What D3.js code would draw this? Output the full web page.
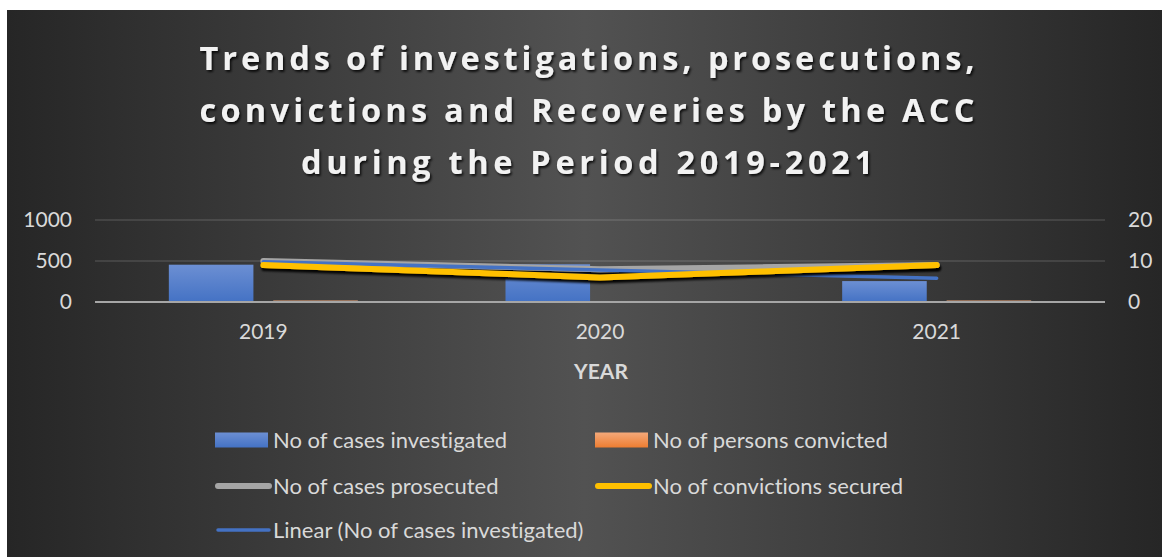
<!DOCTYPE html>
<html>
<head>
<meta charset="utf-8">
<script src="https://cdn.jsdelivr.net/npm/d3@7"></script>
<style>
  html, body { margin: 0; padding: 0; background: #ffffff; }
  svg { display: block; font-family: Lato, "Open Sans", sans-serif; font-variant-ligatures: none; }
</style>
</head>
<body>
<svg id="chart" width="1162" height="557"></svg>
<script>
var years = ["2019", "2020", "2021"];
var casesInvestigated = [455, 460, 255];
var personsConvicted = [18, 12, 18];
var casesProsecuted = [10, 8, 9];
var convictionsSecured = [9, 6, 9];
var leftTicks = [0, 500, 1000];
var rightTicks = [0, 10, 20];
var titleLines = [
  "Trends of investigations, prosecutions,",
  "convictions and Recoveries by the ACC",
  "during the Period 2019-2021"
];

(function() {
  var svg = d3.select("#chart"),
      plotLeft = 95, plotRight = 1105,
      plotTop = 220, plotBottom = 302;

  var defs = svg.append("defs");

  var bg = defs.append("linearGradient").attr("id", "bg")
      .attr("x1", "0").attr("x2", "1").attr("y1", "0").attr("y2", "0");
  bg.append("stop").attr("offset", "0").attr("stop-color", "#262626");
  bg.append("stop").attr("offset", "0.5").attr("stop-color", "#525252");
  bg.append("stop").attr("offset", "1").attr("stop-color", "#262626");

  var blueGrad = defs.append("linearGradient").attr("id", "blueBar")
      .attr("x1", "0").attr("x2", "0").attr("y1", "0").attr("y2", "1");
  blueGrad.append("stop").attr("offset", "0").attr("stop-color", "#6c8fd3");
  blueGrad.append("stop").attr("offset", "1").attr("stop-color", "#4472c4");

  var orangeGrad = defs.append("linearGradient").attr("id", "orangeBar")
      .attr("x1", "0").attr("x2", "0").attr("y1", "0").attr("y2", "1");
  orangeGrad.append("stop").attr("offset", "0").attr("stop-color", "#f4a97a");
  orangeGrad.append("stop").attr("offset", "1").attr("stop-color", "#ed7d31");

  var titleShadow = defs.append("filter").attr("id", "titleShadow")
      .attr("x", "-5%").attr("y", "-20%").attr("width", "110%").attr("height", "150%");
  titleShadow.append("feDropShadow").attr("dx", 1.5).attr("dy", 2).attr("stdDeviation", 1.2)
      .attr("flood-color", "#000").attr("flood-opacity", 0.8);

  var lineShadow = defs.append("filter").attr("id", "lineShadow")
      .attr("x", "-5%").attr("y", "-100%").attr("width", "110%").attr("height", "300%");
  lineShadow.append("feDropShadow").attr("dx", 1).attr("dy", 3).attr("stdDeviation", 1.3)
      .attr("flood-color", "#000").attr("flood-opacity", 0.95);

  svg.append("rect")
    .attr("x", 7).attr("y", 10)
    .attr("width", 1162 - 7).attr("height", 557 - 10)
    .attr("fill", "url(#bg)");

  // title
  var titleWidths = [775, 775, 572];
  svg.append("g").attr("filter", "url(#titleShadow)")
    .selectAll("text")
    .data(titleLines)
    .enter().append("text")
      .attr("x", 587)
      .attr("y", function(d, i) { return 70 + i * 52; })
      .attr("text-anchor", "middle")
      .attr("textLength", function(d, i) { return titleWidths[i]; })
      .attr("lengthAdjust", "spacing")
      .attr("fill", "#f2f2f2")
      .attr("font-family", "'Open Sans', sans-serif")
      .attr("font-size", 32.5)
      .attr("font-weight", 700)
      .text(function(d) { return d; });

  var x = d3.scaleBand().domain(years).range([plotLeft, plotRight]);
  var series = ["inv", "conv"];
  var x1 = d3.scaleBand().domain(series)
      .range([x.bandwidth() / 2 - 94.5, x.bandwidth() / 2 + 94.5])
      .paddingInner(0.19);
  var y = d3.scaleLinear().domain([0, 1000]).range([plotBottom, plotTop]);
  var y2 = d3.scaleLinear().domain([0, 20]).range([plotBottom, plotTop]);

  // gridlines
  svg.append("g")
    .selectAll("line")
    .data(leftTicks.filter(function(d) { return d > 0; }))
    .enter().append("line")
      .attr("x1", plotLeft).attr("x2", plotRight)
      .attr("y1", function(d) { return y(d); })
      .attr("y2", function(d) { return y(d); })
      .attr("stroke", "rgba(255,255,255,0.14)")
      .attr("stroke-width", 1.5);

  // axes labels
  var leftAxis = svg.append("g")
      .attr("transform", "translate(72,0)")
      .call(d3.axisLeft(y).tickValues(leftTicks).tickFormat(d3.format("d")).tickSize(0).tickPadding(0));
  var rightAxis = svg.append("g")
      .attr("transform", "translate(1128,0)")
      .call(d3.axisRight(y2).tickValues(rightTicks).tickFormat(d3.format("d")).tickSize(0).tickPadding(0));
  [leftAxis, rightAxis].forEach(function(a) {
    a.select(".domain").remove();
    a.selectAll("text").attr("fill", "#d9d9d9").attr("font-size", 21)
      .attr("font-family", "Lato, sans-serif");
  });

  var bottomAxis = svg.append("g")
      .attr("transform", "translate(0," + plotBottom + ")")
      .call(d3.axisBottom(x).tickSize(0).tickPadding(22));
  bottomAxis.select(".domain").remove();
  bottomAxis.selectAll("text").attr("fill", "#d9d9d9").attr("font-size", 21)
    .attr("font-family", "Lato, sans-serif");

  svg.append("text")
    .attr("x", 601).attr("y", 379)
    .attr("text-anchor", "middle")
    .attr("fill", "#d9d9d9")
    .attr("font-size", 21)
    .attr("font-weight", 700)
    .text("YEAR");

  // bars
  var barData = years.map(function(yr, i) {
    return [
      { year: yr, key: "inv", value: casesInvestigated[i], fill: "url(#blueBar)" },
      { year: yr, key: "conv", value: personsConvicted[i], fill: "url(#orangeBar)" }
    ];
  });
  svg.append("g")
    .selectAll("g")
    .data(barData)
    .enter().append("g")
      .attr("transform", function(d) { return "translate(" + x(d[0].year) + ",0)"; })
    .selectAll("rect")
    .data(function(d) { return d; })
    .enter().append("rect")
      .attr("x", function(d) { return x1(d.key); })
      .attr("y", function(d) { return y(d.value); })
      .attr("width", x1.bandwidth())
      .attr("height", function(d) { return plotBottom - y(d.value); })
      .attr("fill", function(d) { return d.fill; });

  // zero line
  svg.append("line")
    .attr("x1", plotLeft).attr("x2", plotRight)
    .attr("y1", y(0)).attr("y2", y(0))
    .attr("stroke", "#a6a6a6")
    .attr("stroke-width", 2);

  var cx = function(d, i) { return x(years[i]) + x.bandwidth() / 2; };
  var line2 = d3.line().x(cx).y(function(d) { return y2(d); });

  svg.append("path")
    .datum(casesProsecuted)
    .attr("d", line2)
    .attr("fill", "none")
    .attr("stroke", "#a5a5a5")
    .attr("stroke-width", 6)
    .attr("stroke-linecap", "round")
    .attr("stroke-linejoin", "round")
    .attr("filter", "url(#lineShadow)");

  // linear trend of cases investigated
  var n = casesInvestigated.length,
      xs = d3.range(1, n + 1),
      mx = d3.mean(xs), my = d3.mean(casesInvestigated),
      slope = d3.sum(xs, function(v, i) { return (v - mx) * (casesInvestigated[i] - my); }) /
              d3.sum(xs, function(v) { return (v - mx) * (v - mx); }),
      intercept = my - slope * mx,
      trend = xs.map(function(v) { return intercept + slope * v; });

  svg.append("path")
    .datum(trend)
    .attr("d", d3.line().x(cx).y(function(d) { return y(d); }))
    .attr("fill", "none")
    .attr("stroke", "#4472c4")
    .attr("stroke-width", 3.5)
    .attr("stroke-linecap", "round");

  svg.append("path")
    .datum(convictionsSecured)
    .attr("d", line2)
    .attr("fill", "none")
    .attr("stroke", "#ffc000")
    .attr("stroke-width", 6)
    .attr("stroke-linecap", "round")
    .attr("stroke-linejoin", "round")
    .attr("filter", "url(#lineShadow)");

  // legend
  var legendItems = [
    { label: "No of cases investigated", type: "rect", fill: "url(#blueBar)", x: 215, y: 440 },
    { label: "No of persons convicted", type: "rect", fill: "url(#orangeBar)", x: 595, y: 440 },
    { label: "No of cases prosecuted", type: "line", stroke: "#a5a5a5", w: 6, x: 215, y: 486 },
    { label: "No of convictions secured", type: "line", stroke: "#ffc000", w: 6, x: 595, y: 486 },
    { label: "Linear (No of cases investigated)", type: "line", stroke: "#4472c4", w: 3.5, x: 215, y: 530 }
  ];

  var legend = svg.selectAll(".legend-item")
      .data(legendItems)
      .enter().append("g")
      .attr("class", "legend-item");

  legend.filter(function(d) { return d.type === "rect"; })
    .append("rect")
      .attr("x", function(d) { return d.x; })
      .attr("y", function(d) { return d.y - 7.5; })
      .attr("width", 53)
      .attr("height", 15)
      .attr("fill", function(d) { return d.fill; });

  legend.filter(function(d) { return d.type === "line"; })
    .append("line")
      .attr("x1", function(d) { return d.x + 3; })
      .attr("x2", function(d) { return d.x + 54; })
      .attr("y1", function(d) { return d.y; })
      .attr("y2", function(d) { return d.y; })
      .attr("stroke", function(d) { return d.stroke; })
      .attr("stroke-width", function(d) { return d.w; })
      .attr("stroke-linecap", "round");

  legend.append("text")
    .attr("x", function(d) { return d.x + 58; })
    .attr("y", function(d) { return d.y + 8; })
    .attr("fill", "#d9d9d9")
    .attr("font-size", 22)
    .text(function(d) { return d.label; });
})();
</script>
</body>
</html>
